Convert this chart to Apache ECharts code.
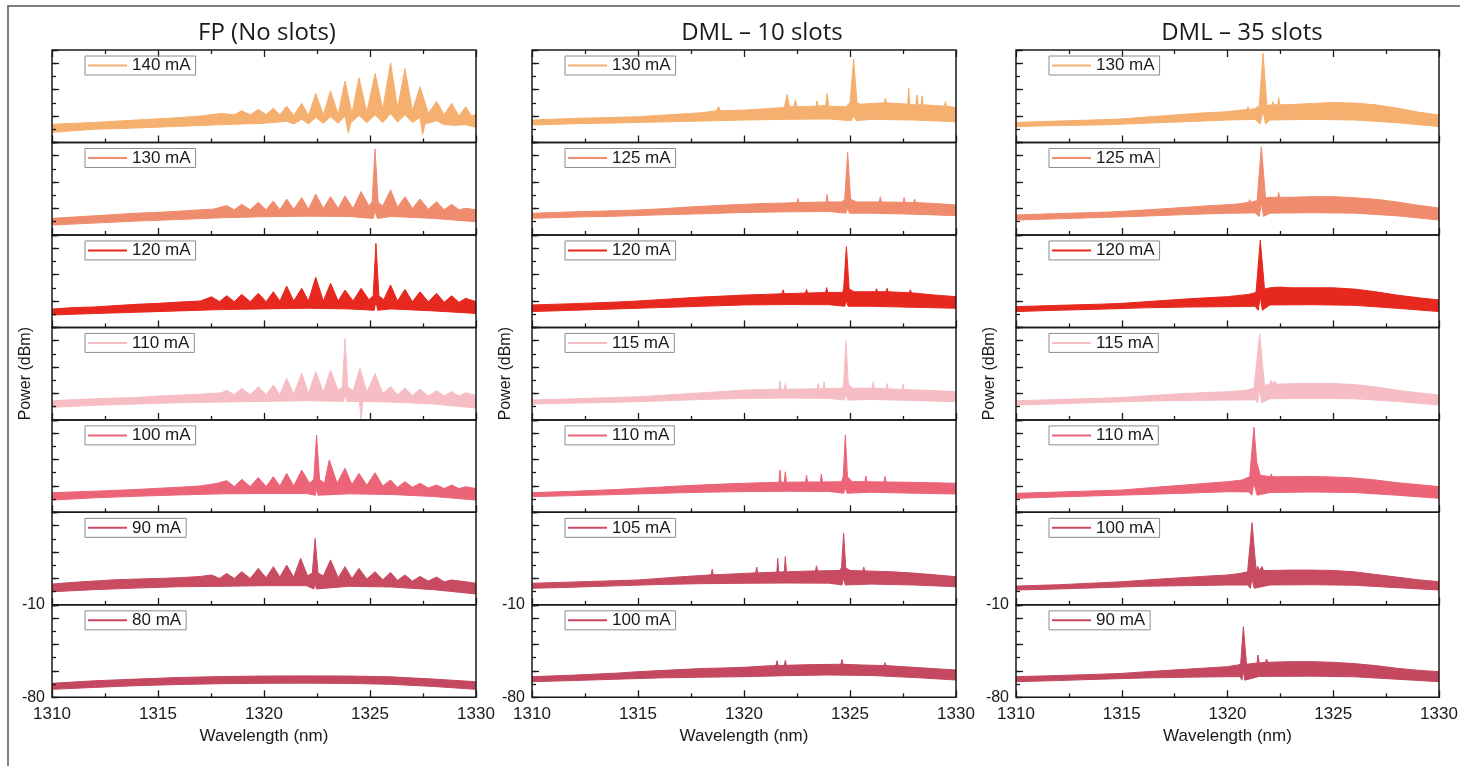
<!DOCTYPE html>
<html>
<head>
<meta charset="utf-8">
<title>Optical spectra</title>
<script src="https://cdn.jsdelivr.net/npm/echarts@6/dist/echarts.min.js"></script>
<style>
html, body { margin: 0; padding: 0; background: #fff; }
#main { width: 1460px; height: 766px; }
</style>
</head>
<body>
<div id="main"></div>
<script>
// ---- data ----
var panelTitles = ['FP (No slots)', 'DML – 10 slots', 'DML – 35 slots'];
var wavelengthTicks = [1310, 1315, 1320, 1325, 1330];
var powerRange = [-80, -10];
var powerLabels = [-80, -10];

var fpCurrents = ['140 mA', '130 mA', '120 mA', '110 mA', '100 mA', '90 mA', '80 mA'];
var dml10Currents = ['130 mA', '125 mA', '120 mA', '115 mA', '110 mA', '105 mA', '100 mA'];
var dml35Currents = ['130 mA', '125 mA', '120 mA', '115 mA', '110 mA', '100 mA', '90 mA'];
var rowColors = ['#f5af6e', '#f08c6e', '#e6281f', '#f6bec4', '#ec6478', '#c84b62', '#c4485f'];

// upper / lower edge of each noisy trace, [wavelength nm, power dBm]
var fpUp140 = [[1310,-66.3],[1312,-64.8],[1314,-63],[1316,-61.2],[1317,-60],[1318,-58],[1318.6,-59],[1318.95,-56],[1319.35,-59],[1319.73,-55],[1320.1,-59],[1320.44,-54],[1320.75,-59],[1321.07,-52.5],[1321.4,-59.5],[1321.78,-50.4],[1322.1,-59.5],[1322.44,-43],[1322.8,-59],[1323.14,-41],[1323.5,-59],[1323.82,-33.5],[1324.15,-58],[1324.48,-31],[1324.85,-57],[1325.24,-27.7],[1325.6,-55],[1325.97,-19.6],[1326.3,-54],[1326.65,-24],[1327,-56],[1327.36,-37.8],[1327.75,-58],[1328.14,-49],[1328.5,-59],[1328.85,-50.4],[1329.2,-60],[1329.51,-53],[1329.8,-60],[1330,-58.5]];
var fpLo140 = [[1310,-72.3],[1312,-70],[1314,-69],[1316,-67.8],[1318,-66.5],[1320,-65.5],[1321.07,-64],[1321.4,-66],[1321.78,-62.5],[1322.1,-66],[1322.44,-61],[1322.8,-65.5],[1323.14,-60.5],[1323.5,-65.5],[1323.82,-60],[1323.98,-73],[1324.1,-65],[1324.48,-59.5],[1324.85,-65],[1325.24,-59],[1325.6,-65],[1325.97,-58],[1326.3,-64.5],[1326.65,-59],[1327,-65],[1327.36,-61],[1327.48,-74],[1327.6,-66],[1328.14,-63.5],[1328.5,-66.5],[1329,-67],[1329.5,-66.5],[1330,-68.5]];
var fpUp130 = [[1310,-67.4],[1311,-66.5],[1312,-65.5],[1313,-64.5],[1314,-63.5],[1315,-62.9],[1316,-62],[1317,-61],[1317.6,-60.5],[1318.24,-57.8],[1318.6,-61],[1318.95,-56.8],[1319.35,-61],[1319.73,-55.3],[1320.1,-61],[1320.44,-54.3],[1320.75,-61],[1321.07,-52.8],[1321.4,-60.5],[1321.78,-51.8],[1322.1,-60.5],[1322.44,-49.1],[1322.8,-60],[1323.14,-51],[1323.5,-60],[1323.82,-50.4],[1324.2,-60],[1324.58,-47.2],[1324.95,-58],[1325.1,-55],[1325.24,-14.9],[1325.38,-55],[1325.6,-58],[1325.97,-45.9],[1326.3,-59],[1326.65,-51],[1327,-60],[1327.36,-52.8],[1327.75,-60.5],[1328.14,-54.8],[1328.5,-61],[1328.85,-56.8],[1329.2,-61],[1329.51,-59.8],[1330,-61]];
var fpLo130 = [[1310,-72.5],[1312,-71],[1314,-69.5],[1316,-68.3],[1318,-67],[1320,-66.2],[1322,-65.8],[1324,-66],[1325.15,-67.5],[1325.24,-62],[1325.35,-67.5],[1326,-66],[1328,-67.5],[1330,-70]];
var fpUp120 = [[1310,-66.1],[1311,-65],[1312,-64.5],[1313,-63.5],[1314,-62.5],[1315,-61.8],[1316,-60.8],[1317,-60],[1317.53,-56.8],[1317.9,-60.5],[1318.24,-56],[1318.6,-60.5],[1318.95,-55],[1319.35,-60.5],[1319.73,-54.2],[1320.1,-60.5],[1320.44,-53],[1320.75,-60],[1321.07,-48.7],[1321.4,-60],[1321.78,-50.4],[1322.1,-60],[1322.44,-42.1],[1322.8,-60],[1323.14,-46.6],[1323.5,-60],[1323.82,-51.7],[1324.2,-60],[1324.58,-50.4],[1324.95,-59],[1325.15,-56],[1325.28,-16.4],[1325.42,-56],[1325.65,-59],[1325.97,-47.9],[1326.3,-60],[1326.65,-51.2],[1327,-60.5],[1327.36,-53],[1327.75,-60.5],[1328.14,-54.2],[1328.5,-61],[1328.85,-56],[1329.2,-61],[1329.51,-58],[1330,-60.5]];
var fpLo120 = [[1310,-70.6],[1312,-69.5],[1314,-68.5],[1316,-67.5],[1318,-66.5],[1320,-66],[1322,-65.5],[1324,-66],[1325.2,-67],[1325.28,-60],[1325.36,-67],[1326,-66],[1328,-67.5],[1330,-69.4]];
var fpUp110 = [[1310,-65.5],[1312,-64],[1314,-63],[1315,-62],[1316,-61.3],[1317,-60.5],[1318,-59.5],[1318.24,-57.5],[1318.6,-61],[1318.95,-56.1],[1319.35,-61],[1319.73,-54.9],[1320.1,-61],[1320.44,-53.6],[1320.75,-61],[1321.07,-48.6],[1321.4,-60.5],[1321.78,-44.8],[1322.1,-60],[1322.44,-43.5],[1322.8,-59],[1323.14,-42.3],[1323.5,-58],[1323.7,-55],[1323.82,-18.3],[1323.95,-55],[1324.2,-58],[1324.53,-41],[1324.85,-59],[1325.24,-44.8],[1325.6,-60],[1325.97,-54.9],[1326.3,-61],[1326.65,-56],[1327,-61.5],[1327.36,-56.8],[1327.75,-62],[1328.14,-57.9],[1328.5,-62],[1328.85,-58.6],[1329.2,-62],[1329.51,-59.5],[1330,-61.5]];
var fpLo110 = [[1310,-70.5],[1312,-69],[1314,-68],[1316,-67],[1318,-66.5],[1320,-66],[1322,-65.5],[1323.75,-66],[1323.82,-60],[1323.9,-66],[1324.5,-66],[1324.58,-79.3],[1324.66,-66],[1326,-66.5],[1328,-68],[1330,-71]];
var fpUp100 = [[1310,-65.1],[1312,-64],[1314,-62.7],[1315,-61.8],[1316,-61],[1317,-60],[1317.8,-58],[1318.24,-56],[1318.6,-60.5],[1318.95,-55],[1319.35,-60.5],[1319.73,-53.6],[1320.1,-60.5],[1320.44,-53],[1320.75,-60],[1321.07,-50.5],[1321.4,-60],[1321.78,-48],[1322.15,-58],[1322.35,-55],[1322.48,-21.5],[1322.62,-55],[1322.85,-58],[1323.08,-40.4],[1323.45,-58],[1323.82,-46.7],[1324.15,-59],[1324.48,-50.5],[1324.85,-59.5],[1325.24,-50],[1325.6,-60],[1325.97,-55.5],[1326.3,-61],[1326.65,-56.8],[1327,-61],[1327.36,-58],[1327.75,-61.5],[1328.14,-59.3],[1328.5,-62],[1328.85,-59.3],[1329.2,-62],[1329.51,-60.6],[1330,-62]];
var fpLo100 = [[1310,-70.7],[1312,-69],[1314,-67.8],[1316,-66.8],[1318,-66],[1320,-65.7],[1322,-65.8],[1322.42,-67],[1322.48,-62],[1322.55,-67],[1324,-66],[1326,-66.5],[1328,-68],[1330,-70.7]];
var fpUp90 = [[1310,-64.3],[1311,-63],[1312,-62],[1313,-61],[1314,-60.5],[1315,-60],[1316,-59.5],[1317,-58.5],[1317.53,-57.4],[1317.9,-60],[1318.24,-56.2],[1318.6,-60],[1318.95,-54.9],[1319.35,-60],[1319.73,-52.4],[1320.1,-59.5],[1320.44,-51.1],[1320.75,-59],[1321.07,-49.9],[1321.4,-59],[1321.73,-44.8],[1322.05,-58],[1322.28,-56],[1322.41,-29.7],[1322.55,-56],[1322.8,-58],[1323.14,-46],[1323.5,-59.5],[1323.82,-51.1],[1324.15,-60],[1324.48,-52.4],[1324.85,-60.5],[1325.24,-54.9],[1325.6,-61],[1325.97,-55.5],[1326.3,-61.5],[1326.65,-57.4],[1327,-62],[1327.36,-58.5],[1327.75,-62],[1328.14,-59],[1328.5,-62.5],[1328.85,-61.2],[1329.5,-62.5],[1330,-63.7]];
var fpLo90 = [[1310,-70.1],[1312,-68.5],[1314,-67.3],[1316,-66.3],[1318,-66],[1320,-65.5],[1322,-65.5],[1322.35,-68],[1322.41,-63],[1322.47,-68],[1324,-66],[1326,-66.5],[1328,-68.5],[1330,-71.8]];
var fpUp80 = [[1310,-69.4],[1312,-67.5],[1314,-66.2],[1316,-65],[1318,-64.3],[1320,-63.9],[1322,-63.8],[1324,-63.9],[1326,-64.5],[1328,-66.2],[1330,-68.2]];
var fpLo80 = [[1310,-74],[1312,-72.5],[1314,-71.2],[1316,-70.3],[1318,-69.7],[1320,-69.4],[1322,-69.3],[1324,-69.5],[1326,-70.2],[1328,-71.8],[1330,-74]];

var d10Up130 = [[1310,-63],[1312,-61.8],[1314,-61],[1315,-60.5],[1316,-59.5],[1317,-58.5],[1318,-57.5],[1318.7,-56],[1318.8,-52.9],[1318.9,-56],[1320,-55.5],[1321,-54.5],[1321.9,-53.5],[1322.03,-43.6],[1322.15,-53],[1322.35,-53],[1322.42,-47.9],[1322.5,-53],[1323.4,-52.5],[1323.44,-48.6],[1323.5,-52.5],[1323.85,-52],[1323.92,-42.8],[1324,-52.5],[1324.8,-53],[1325,-50],[1325.17,-16.8],[1325.33,-50],[1325.5,-51],[1326.62,-50],[1326.67,-46.6],[1326.72,-50],[1327.72,-51],[1327.77,-39],[1327.82,-51.5],[1328.1,-51.5],[1328.16,-44],[1328.22,-51.5],[1328.35,-51.5],[1328.4,-44.6],[1328.45,-51.5],[1329.45,-52.5],[1329.5,-49.1],[1329.55,-52.5],[1330,-53.5]];
var d10Lo130 = [[1310,-66.8],[1312,-65.8],[1314,-65.2],[1316,-64.5],[1318,-63.8],[1320,-63],[1322,-62.5],[1324,-62.2],[1325.05,-63.5],[1325.17,-60],[1325.3,-63.5],[1326,-62.5],[1328,-63],[1330,-64.3]];
var d10Up125 = [[1310,-63.6],[1312,-62.5],[1314,-61.6],[1315,-61.1],[1316,-60.3],[1317,-59.3],[1318,-58.3],[1319,-57.5],[1320,-56.8],[1321,-56.2],[1322,-55.8],[1322.5,-55.5],[1322.55,-52.3],[1322.6,-55.5],[1323.88,-55],[1323.92,-49.3],[1323.97,-55],[1324.6,-55],[1324.75,-53],[1324.89,-17.5],[1325.03,-53],[1325.3,-55],[1326.38,-55],[1326.43,-51],[1326.48,-55],[1327.5,-55.3],[1327.55,-51.8],[1327.6,-55.3],[1328,-55.5],[1328.05,-52.8],[1328.1,-55.5],[1329,-56.2],[1330,-57.3]];
var d10Lo125 = [[1310,-67.4],[1312,-66.5],[1314,-65.8],[1316,-64.8],[1318,-64],[1320,-63],[1322,-62.5],[1324,-62.3],[1324.8,-63.5],[1324.89,-60],[1324.98,-63.5],[1326,-63.5],[1328,-64.3],[1330,-65.4]];
var d10Up120 = [[1310,-63],[1312,-62],[1314,-60.8],[1315,-60],[1316,-59],[1317,-58],[1318,-57],[1319,-56.3],[1320,-55.5],[1321,-55],[1321.8,-54.5],[1321.85,-51.5],[1321.9,-54.5],[1322.9,-54],[1322.95,-51.2],[1323,-54],[1323.85,-53.5],[1323.9,-49.9],[1323.95,-53.5],[1324.65,-53.5],[1324.7,-51],[1324.83,-18.9],[1324.96,-51],[1325.2,-53],[1326.2,-53],[1326.25,-50.8],[1326.3,-53],[1326.7,-53],[1326.75,-50.4],[1326.8,-53],[1327.8,-53.8],[1327.85,-51.5],[1327.9,-53.8],[1329,-55.5],[1330,-56.7]];
var d10Lo120 = [[1310,-68],[1312,-67],[1314,-66],[1316,-65],[1318,-64],[1320,-63],[1322,-62.7],[1324,-62.8],[1324.75,-64],[1324.83,-60],[1324.91,-64],[1326,-64],[1328,-64.8],[1330,-65.5]];
var d10Up115 = [[1310,-65],[1312,-64],[1314,-63],[1315,-62.5],[1316,-61.5],[1317,-60.5],[1318,-59.5],[1319,-58.5],[1320,-57.4],[1321,-57],[1321.65,-56.8],[1321.7,-50.4],[1321.75,-56.8],[1321.9,-56.8],[1321.95,-52.4],[1322,-56.8],[1323.45,-56.5],[1323.5,-52.5],[1323.55,-56.5],[1323.73,-56.3],[1323.78,-51.1],[1323.83,-56.3],[1324.65,-56],[1324.7,-53],[1324.81,-20],[1324.92,-53],[1325.1,-56],[1326.05,-56],[1326.1,-51.1],[1326.15,-56],[1326.7,-56.5],[1326.75,-52.5],[1326.8,-56.5],[1327.45,-57],[1327.5,-52.8],[1327.55,-57],[1328.5,-57.5],[1330,-58.6]];
var d10Lo115 = [[1310,-68],[1312,-67.3],[1314,-66.6],[1316,-65.7],[1318,-64.6],[1320,-63.7],[1322,-63.5],[1324,-63.6],[1324.72,-65],[1324.81,-61],[1324.9,-65],[1326,-64.5],[1328,-65.3],[1330,-66.3]];
var d10Up110 = [[1310,-65.1],[1312,-64],[1314,-62.7],[1315,-61.8],[1316,-60.9],[1317,-60],[1318,-59.3],[1319,-58.6],[1320,-58],[1321,-57.5],[1321.65,-57.2],[1321.7,-48],[1321.75,-57.2],[1321.9,-57.2],[1321.95,-49.3],[1322,-57.2],[1322.9,-57],[1322.95,-52],[1323,-57],[1323.6,-57],[1323.65,-51],[1323.7,-57],[1324.6,-56.8],[1324.68,-53],[1324.78,-21.5],[1324.88,-53],[1325.1,-56.8],[1325.7,-56.8],[1325.75,-52.5],[1325.8,-56.8],[1326.6,-57],[1326.65,-52.8],[1326.7,-57],[1328,-57.3],[1330,-58]];
var d10Lo110 = [[1310,-68.1],[1312,-67.3],[1314,-66.5],[1316,-65.6],[1318,-64.8],[1320,-64.3],[1322,-64],[1324,-64.2],[1324.7,-65.5],[1324.78,-61],[1324.86,-65.5],[1326,-64.8],[1328,-65.5],[1330,-66.1]];
var d10Up105 = [[1310,-63.7],[1312,-62.7],[1314,-61.7],[1315,-61.2],[1316,-60],[1317,-58.8],[1318,-57.8],[1318.45,-57.3],[1318.5,-53.1],[1318.55,-57.3],[1319,-57],[1320,-56.2],[1320.55,-55.8],[1320.6,-51.5],[1320.65,-55.8],[1321.55,-55.2],[1321.59,-44.8],[1321.64,-55.2],[1321.9,-55],[1321.95,-43.5],[1322,-55],[1323.37,-54.3],[1323.42,-50.4],[1323.47,-54.3],[1324.5,-54],[1324.6,-52],[1324.7,-25.9],[1324.8,-52],[1325,-54],[1325.6,-54.3],[1325.65,-51.5],[1325.7,-54.3],[1327,-55],[1328,-56],[1329,-57.3],[1330,-58.7]];
var d10Lo105 = [[1310,-67.5],[1312,-66.6],[1314,-65.6],[1316,-64.6],[1318,-64],[1320,-63.7],[1322,-63.5],[1324,-63.6],[1324.62,-65],[1324.7,-60],[1324.78,-65],[1326,-64.3],[1328,-65],[1330,-66.3]];
var d10Up100 = [[1310,-64.4],[1312,-63.2],[1314,-61.7],[1315,-60.6],[1316,-59.8],[1317,-59],[1318,-58.2],[1319,-57.8],[1320,-57.3],[1321,-56.3],[1321.5,-56],[1321.56,-52.3],[1321.62,-56],[1321.9,-55.8],[1321.95,-52],[1322,-55.8],[1323,-55.3],[1324.57,-55],[1324.62,-51.3],[1324.67,-55],[1325.5,-55.5],[1326.6,-56],[1326.65,-53.8],[1326.7,-56],[1328,-57.3],[1329,-58.3],[1330,-59.3]];
var d10Lo100 = [[1310,-68.2],[1312,-67.3],[1314,-66.3],[1316,-65.3],[1318,-64.8],[1320,-64.4],[1322,-63.6],[1324,-63.1],[1326,-63.5],[1328,-65],[1330,-66.9]];

var d35Up130 = [[1310,-64.8],[1312,-63.8],[1314,-62.8],[1315,-62.2],[1316,-61],[1317,-59.8],[1318,-58.6],[1319,-57.5],[1320,-56.7],[1320.5,-55.8],[1320.93,-55],[1320.97,-52.9],[1321.02,-55],[1321.3,-54.5],[1321.5,-52],[1321.68,-12.5],[1321.86,-52],[1322.1,-51.5],[1322.15,-49.1],[1322.2,-51.5],[1322.38,-51.5],[1322.42,-46.1],[1322.47,-51.5],[1323,-51.3],[1324,-50.5],[1325,-49.7],[1326,-50.2],[1327,-51.5],[1328,-54],[1329,-57],[1330,-59.2]];
var d35Lo130 = [[1310,-68],[1312,-67.2],[1314,-66.7],[1316,-65.5],[1318,-64.3],[1320,-63],[1321.3,-62.5],[1321.55,-66],[1321.68,-56],[1321.8,-66],[1322,-63],[1324,-62.5],[1326,-63],[1328,-65],[1330,-68]];
var d35Up125 = [[1310,-64.9],[1312,-63.8],[1314,-62.9],[1315,-62.2],[1316,-61.2],[1317,-60.2],[1318,-59.1],[1319,-58],[1320,-57.1],[1320.5,-56.5],[1321,-55.3],[1321.05,-53.3],[1321.1,-55.3],[1321.4,-54],[1321.6,-13.2],[1321.8,-52],[1322,-51.5],[1322.38,-51.5],[1322.42,-47.8],[1322.47,-51.5],[1323,-51.5],[1324,-51],[1325,-51],[1326,-51.8],[1327,-53],[1328,-55],[1329,-57.5],[1330,-59.6]];
var d35Lo125 = [[1310,-68.7],[1312,-67.8],[1314,-66.8],[1316,-65.8],[1318,-64.6],[1320,-63.6],[1321.3,-63.3],[1321.5,-66],[1321.6,-56],[1321.7,-66],[1322,-63.5],[1324,-63.2],[1326,-63.5],[1328,-65.5],[1330,-68.7]];
var d35Up120 = [[1310,-64.3],[1312,-63.3],[1314,-62.4],[1315,-61.8],[1316,-60.7],[1317,-59.6],[1318,-58.5],[1319,-57.6],[1320,-56.7],[1321,-55],[1321.35,-53.5],[1321.55,-13.8],[1321.75,-51],[1322,-50],[1322.5,-49.5],[1323,-50],[1324,-50],[1325,-50],[1326,-51],[1327,-53],[1328,-55.5],[1329,-57.5],[1330,-59.2]];
var d35Lo120 = [[1310,-68],[1312,-67],[1314,-66.2],[1316,-65.2],[1318,-64.6],[1320,-64.3],[1321.3,-64],[1321.45,-67],[1321.55,-57],[1321.65,-67],[1322,-63],[1324,-62.8],[1326,-63.3],[1328,-65.5],[1330,-68]];
var d35Up115 = [[1310,-65.5],[1312,-64.6],[1314,-63.6],[1315,-63],[1316,-62],[1317,-61],[1318,-60],[1319,-59.3],[1320,-58.7],[1320.9,-57.5],[1321.25,-56],[1321.52,-15],[1321.75,-54],[1322,-53],[1322.07,-49.8],[1322.12,-53],[1322.2,-53],[1322.25,-50.5],[1322.3,-53],[1323,-52.6],[1324,-52.3],[1325,-52.5],[1326,-53.3],[1327,-55],[1328,-57.5],[1329,-59.5],[1330,-61.2]];
var d35Lo115 = [[1310,-68.8],[1312,-67.8],[1314,-66.8],[1316,-65.8],[1318,-65.3],[1320,-65],[1321.3,-64.8],[1321.42,-67],[1321.52,-58],[1321.62,-67],[1322,-64],[1324,-63.7],[1326,-64],[1328,-66],[1330,-68.8]];
var d35Up110 = [[1310,-65.6],[1312,-64.6],[1314,-63.6],[1315,-63.1],[1316,-61.8],[1317,-60.5],[1318,-59.3],[1319,-58],[1320,-56.8],[1320.7,-55.5],[1321.05,-53],[1321.25,-15.6],[1321.38,-42],[1321.45,-43],[1321.55,-52],[1322.03,-53],[1322.07,-50.9],[1322.12,-53],[1323,-53],[1324,-52.9],[1325,-53.2],[1326,-54],[1327,-55.5],[1328,-57.5],[1329,-59],[1330,-60.5]];
var d35Lo110 = [[1310,-69.4],[1312,-68.3],[1314,-67.4],[1316,-66.5],[1318,-65.5],[1320,-64.4],[1321,-64.5],[1321.15,-67],[1321.25,-58],[1321.4,-67],[1322,-65],[1324,-64.6],[1326,-65],[1328,-67],[1330,-69.4]];
var d35Up100 = [[1310,-65.8],[1312,-64.8],[1314,-63.3],[1315,-62.5],[1316,-61.4],[1317,-60.3],[1318,-59.3],[1319,-58.3],[1320,-57.4],[1320.6,-56.2],[1320.95,-55],[1321.16,-17.8],[1321.36,-55],[1321.42,-50.6],[1321.5,-54],[1321.63,-51],[1321.7,-54],[1322,-54],[1323,-53.7],[1324,-53.7],[1325,-54],[1326,-55],[1327,-57],[1328,-59],[1329,-61],[1330,-62.5]];
var d35Lo100 = [[1310,-68.8],[1312,-68],[1314,-67],[1316,-66],[1318,-65.5],[1320,-65],[1320.95,-65],[1321.08,-67.5],[1321.16,-60],[1321.26,-67.5],[1322,-65],[1324,-64.8],[1326,-65.2],[1328,-67],[1330,-68.8]];
var d35Up90 = [[1310,-64.4],[1312,-63.5],[1314,-62.5],[1315,-61.9],[1316,-60.8],[1317,-59.8],[1318,-58.8],[1319,-57.8],[1320,-56.8],[1320.5,-55.5],[1320.62,-55],[1320.75,-26.5],[1320.9,-55],[1321.4,-54],[1321.44,-48],[1321.5,-54],[1321.8,-53.5],[1321.85,-51],[1321.9,-53.5],[1323,-53],[1324,-53],[1325,-53.5],[1326,-54.5],[1327,-56],[1328,-58],[1329,-59.5],[1330,-60.6]];
var d35Lo90 = [[1310,-68.2],[1312,-67.3],[1314,-66.3],[1316,-65.4],[1318,-64.8],[1320,-64.4],[1320.6,-64.4],[1320.68,-67],[1320.75,-60],[1320.82,-67],[1321.5,-64.2],[1324,-64],[1326,-64.5],[1328,-66.3],[1330,-68.2]];

// ---- layout ----
var colLeft = [52, 532, 1016];
var colWidth = [424, 424, 423];
var plotTop = 50, plotBottom = 697.3;
var rowH = (plotBottom - plotTop) / 7;
var titleX = [267, 762, 1242];
var font = 'Liberation Sans, Arial, sans-serif';

var columns = [
  { currents: fpCurrents,
    up: [fpUp140, fpUp130, fpUp120, fpUp110, fpUp100, fpUp90, fpUp80],
    lo: [fpLo140, fpLo130, fpLo120, fpLo110, fpLo100, fpLo90, fpLo80] },
  { currents: dml10Currents,
    up: [d10Up130, d10Up125, d10Up120, d10Up115, d10Up110, d10Up105, d10Up100],
    lo: [d10Lo130, d10Lo125, d10Lo120, d10Lo115, d10Lo110, d10Lo105, d10Lo100] },
  { currents: dml35Currents,
    up: [d35Up130, d35Up125, d35Up120, d35Up115, d35Up110, d35Up100, d35Up90],
    lo: [d35Lo130, d35Lo125, d35Lo120, d35Lo115, d35Lo110, d35Lo100, d35Lo90] }
];

var grids = [], xAxes = [], yAxes = [], series = [], legends = [];
var tickStyle = { color: '#1a1a1a', width: 1.3 };
var wlMin = wavelengthTicks[0];
var wlMax = wavelengthTicks[wavelengthTicks.length - 1];
var wlStep = wavelengthTicks[1] - wavelengthTicks[0];

function wlAxis(g, pos, labels) {
  return {
    gridIndex: g, type: 'value', position: pos, min: wlMin, max: wlMax, interval: wlStep, z: 10,
    axisLine: { show: false },
    axisTick: { inside: true, length: 7, lineStyle: tickStyle },
    minorTick: { show: true, splitNumber: 2, length: 4, lineStyle: tickStyle },
    splitLine: { show: false },
    axisLabel: {
      show: labels, fontSize: 17, color: '#1a1a1a', fontFamily: font, margin: 9,
      formatter: function (v) { return String(v); }
    },
    name: labels ? 'Wavelength (nm)' : '', nameLocation: 'middle', nameGap: 31,
    nameTextStyle: { fontSize: 17, color: '#1a1a1a', fontFamily: font }
  };
}

columns.forEach(function (col, c) {
  for (var r = 0; r < 7; r++) {
    var g = grids.length;
    var top = plotTop + r * rowH;
    var last = r === 6;
    grids.push({
      left: colLeft[c], top: top, width: colWidth[c], height: rowH,
      containLabel: false, outerBoundsMode: 'none',
      show: true, z: 20, borderColor: '#1a1a1a', borderWidth: 1.5, backgroundColor: 'transparent'
    });

    var xi = xAxes.length;
    xAxes.push(wlAxis(g, 'bottom', last));
    if (r === 0) xAxes.push(wlAxis(g, 'top', false));

    var yi = yAxes.length;
    yAxes.push({
      gridIndex: g, type: 'value', position: 'left', min: powerRange[0], max: powerRange[1], interval: 20, z: 10,
      axisLine: { show: false },
      axisTick: { inside: true, length: 7, lineStyle: tickStyle },
      splitLine: { show: false },
      axisLabel: {
        show: last, fontSize: 16, color: '#1a1a1a', fontFamily: font, margin: 7,
        formatter: function (v) { return powerLabels.indexOf(v) >= 0 ? String(v) : ''; }
      },
      name: r === 3 ? 'Power (dBm)' : '', nameLocation: 'middle', nameGap: 18,
      nameTextStyle: { fontSize: 16, color: '#1a1a1a', fontFamily: font }
    });
    yAxes.push({
      gridIndex: g, type: 'value', position: 'left', min: powerRange[0], max: powerRange[1], interval: 10, z: 10,
      axisLine: { show: false },
      axisTick: { inside: true, length: 4, lineStyle: tickStyle },
      splitLine: { show: false },
      axisLabel: { show: false }
    });

    var color = rowColors[r];
    var id = col.currents[r] + '#' + c;
    series.push({
      name: id, type: 'line', xAxisIndex: xi, yAxisIndex: yi, data: col.up[r],
      symbol: 'none', animation: false, z: 2,
      itemStyle: { color: color },
      lineStyle: { color: color, width: 1 },
      areaStyle: { color: color, opacity: 1, origin: 'start' }
    });
    series.push({
      name: id + 'lo', type: 'line', xAxisIndex: xi, yAxisIndex: yi, data: col.lo[r],
      symbol: 'none', animation: false, z: 3,
      itemStyle: { color: color },
      lineStyle: { color: color, width: 1 },
      areaStyle: { color: '#ffffff', opacity: 1, origin: 'start' }
    });

    legends.push({
      left: colLeft[c] + 33, top: top + 6, z: 30,
      data: [{ name: id, icon: 'rect', itemStyle: { color: color } }],
      itemWidth: 39, itemHeight: 2, padding: [1, 5, 1, 3],
      borderColor: '#8c8c8c', borderWidth: 1, selectedMode: false,
      formatter: function (n) { return n.split('#')[0]; },
      textStyle: { fontSize: 17, color: '#1a1a1a', fontFamily: font }
    });
  }
});

var graphics = [{
  type: 'polyline', silent: true,
  shape: { points: [[8, 766], [8, 6], [1460, 6]] },
  style: { stroke: '#555', lineWidth: 1.5, fill: null }
}];
panelTitles.forEach(function (t, c) {
  graphics.push({
    type: 'text', x: titleX[c], y: 33, silent: true,
    style: { text: t, font: '24px "Open Sans", sans-serif', fill: '#1a1a1a', textAlign: 'center', textVerticalAlign: 'middle' }
  });
});

var myChart = echarts.init(document.getElementById('main'));
myChart.setOption({
  animation: false,
  backgroundColor: '#fff',
  grid: grids,
  xAxis: xAxes,
  yAxis: yAxes,
  legend: legends,
  series: series,
  graphic: graphics
});
</script>
</body>
</html>
